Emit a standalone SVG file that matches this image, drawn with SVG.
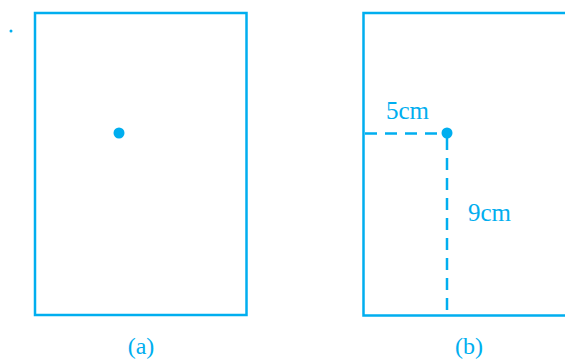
<svg xmlns="http://www.w3.org/2000/svg" width="565" height="362" viewBox="0 0 565 362">
<style>
.frame{fill:none;stroke:#00AEEF;stroke-width:2.5}
.dash{fill:none;stroke:#00AEEF;stroke-width:2.5;stroke-dasharray:12 8}
.dot{fill:#00AEEF}
text{font-family:"Liberation Serif","Times New Roman",serif;fill:#00AEEF;font-size:25px}
.cap{font-size:24px;text-anchor:middle}
</style>
<rect width="565" height="362" fill="#fff"/>
<g id="speck"><circle class="dot" cx="11" cy="31" r="1.5"/></g>
<g id="panel-a">
<rect class="frame" x="35" y="13" width="211.5" height="302"/>
<circle class="dot" cx="119" cy="133" r="5.5"/>
<text class="cap" x="141" y="354">(a)</text>
</g>
<g id="panel-b">
<path class="frame" d="M567,13 H363.5 V315.5 H567"/>
<circle class="dot" cx="447" cy="133" r="5.5"/>
<text x="386" y="119">5cm</text>
<text x="468" y="220.5">9cm</text>
<text class="cap" x="469" y="354">(b)</text>
</g>
<g id="connectors">
<path class="dash" d="M365,133.5 H447"/>
<path class="dash" d="M447,138 V315"/>
</g>
</svg>
